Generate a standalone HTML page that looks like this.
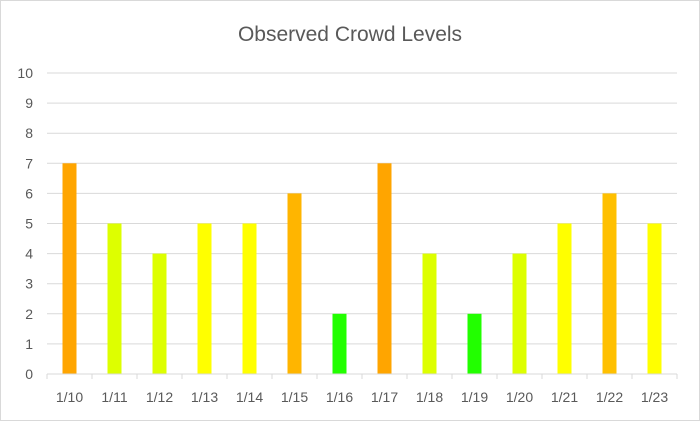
<!DOCTYPE html>
<html><head><meta charset="utf-8"><style>
body{margin:0;background:#fff}
svg{display:block;font-family:"Liberation Sans",sans-serif}
</style></head><body>
<svg width="700" height="421" viewBox="0 0 700 421">
<rect x="0.5" y="0.5" width="699" height="420" fill="#fff" stroke="#d9d9d9"/>
<text x="350" y="41" text-anchor="middle" font-size="21" fill="#595959">Observed Crowd Levels</text>
<g id="grid"></g><g id="bars"></g><g id="axes"></g>
</svg>
<script>
const categories=["1/10","1/11","1/12","1/13","1/14","1/15","1/16","1/17","1/18","1/19","1/20","1/21","1/22","1/23"];
const values=[7,5,4,5,5,6,2,7,4,2,4,5,6,5];
const barColors=["#ffa500","#ddff00","#ddff00","#ffff00","#ffff00","#ffb500","#22ff00","#ffa500","#ddff00","#22ff00","#ddff00","#ffff00","#ffc000","#ffff00"];
const yTicks=[0,1,2,3,4,5,6,7,8,9,10];
const NS="http://www.w3.org/2000/svg";
const L=47,R=677,Y0=374,Y10=73;
const y=v=>Y0-(Y0-Y10)*v/10;
const step=(R-L)/categories.length;
const x=i=>L+step*(i+0.5);
function mk(t,a,p){const e=document.createElementNS(NS,t);for(const k in a)e.setAttribute(k,a[k]);p.appendChild(e);return e;}
const grid=document.getElementById('grid'),bars=document.getElementById('bars'),axes=document.getElementById('axes');
yTicks.forEach(v=>{
 if(v>0){const g=mk('line',{x1:L,x2:R,y1:y(v),y2:y(v),stroke:'#d9d9d9','stroke-width':1},grid);
 
 }
 const t=mk('text',{x:33,y:y(v)+5,'text-anchor':'end','font-size':14,fill:'#595959'},axes);
 t.textContent=v;
 
 
});
const ax=mk('line',{x1:L,x2:R,y1:Y0,y2:Y0,stroke:'#d9d9d9','stroke-width':1},axes);


for(let i=0;i<=categories.length;i++){
 const tk=mk('line',{x1:L+step*i,x2:L+step*i,y1:Y0,y2:Y0+5,stroke:'#d9d9d9'},axes);
 
 
}
categories.forEach((c,i)=>{
 const v=values[i];
 const b=mk('rect',{x:x(i)-7,y:y(v),width:14,height:Y0-y(v),fill:barColors[i]||'#ffff00'},bars);
 
 
 const t=mk('text',{x:x(i),y:402,'text-anchor':'middle','font-size':14,fill:'#595959'},axes);
 t.textContent=c;
 
 
});
</script>
</body></html>
